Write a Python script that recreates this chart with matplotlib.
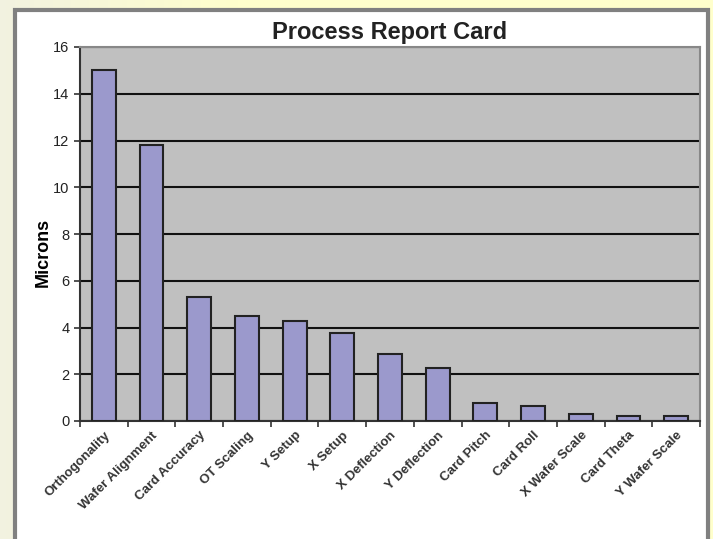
import matplotlib
matplotlib.use("Agg")
import matplotlib.pyplot as plt
import numpy as np
from matplotlib.patches import Rectangle

categories = ["Orthogonality", "Wafer Alignment", "Card Accuracy", "OT Scaling",
              "Y Setup", "X Setup", "X Deflection", "Y Deflection", "Card Pitch",
              "Card Roll", "X Wafer Scale", "Card Theta", "Y Wafer Scale"]
values = [15.0, 11.8, 5.3, 4.5, 4.28, 3.76, 2.87, 2.27, 0.77, 0.64, 0.3, 0.2, 0.2]
yticks = [0, 2, 4, 6, 8, 10, 12, 14, 16]

W, H = 713, 539
fig = plt.figure(figsize=(W / 100, H / 100), dpi=100)

# background gradient
bg = fig.add_axes([0, 0, 1, 1], zorder=-10)
grad = np.linspace(0, 1, 256)
c0 = np.array([0.95, 0.95, 0.88])
c1 = np.array([1.0, 1.0, 0.80])
img = c0[None, :] + (c1 - c0)[None, :] * np.clip(grad * 3, 0, 1)[:, None]
bg.imshow(img[None, :, :], aspect="auto", extent=[0, 1, 0, 1])
bg.add_patch(Rectangle((15 / W, -0.01), (708 - 15) / W, (539 - 10) / H + 0.01,
                       facecolor="white", edgecolor="#808080", linewidth=3,
                       transform=bg.transAxes))
bg.set_xlim(0, 1); bg.set_ylim(0, 1)
bg.axis("off")

left, right, top, bottom = 80, 700, 47, 421
ax = fig.add_axes([left / W, 1 - bottom / H, (right - left) / W, (bottom - top) / H])
ax.set_facecolor("#C0C0C0")
x = np.arange(len(categories))
ax.bar(x, values, width=0.5, color="#9B99CC", edgecolor="#222222", linewidth=1.5, zorder=3)
ax.set_xlim(-0.5, len(categories) - 0.5)
ax.set_ylim(0, 16)
ax.set_yticks(yticks)
ax.set_yticklabels([str(t) for t in yticks], fontsize=10.5, family="Liberation Sans", color="#222222")
ax.yaxis.grid(True, color="#111111", linewidth=1.5, zorder=1)
ax.set_axisbelow(True)
ax.set_xticks(x)
ax.set_xticklabels(categories, rotation=45, ha="right", rotation_mode="anchor",
                   fontsize=9.5, family="Liberation Sans", color="#333333", fontweight="bold")
ax.set_xticks(np.arange(len(categories) + 1) - 0.5, minor=True)
ax.tick_params(axis="x", which="major", length=0, pad=6)
ax.tick_params(axis="x", which="minor", length=4, width=1.2, color="#333333")
ax.tick_params(axis="y", length=4, width=1.2, color="#333333")
for s in ["left", "bottom"]:
    ax.spines[s].set_color("#333333")
    ax.spines[s].set_linewidth(1.5)
for s in ["top", "right"]:
    ax.spines[s].set_color("#888888")
    ax.spines[s].set_linewidth(1.5)
ax.set_ylabel("Microns", fontsize=13, fontweight="bold", family="Liberation Sans")
ax.yaxis.set_label_coords(-0.045, 0.45)
fig.text((left + right) / 2 / W, 1 - 32 / H, "Process Report Card", ha="center", va="center",
         fontsize=17, fontweight="bold", family="Liberation Sans", color="#222222")

fig.savefig("out.png", dpi=100)
